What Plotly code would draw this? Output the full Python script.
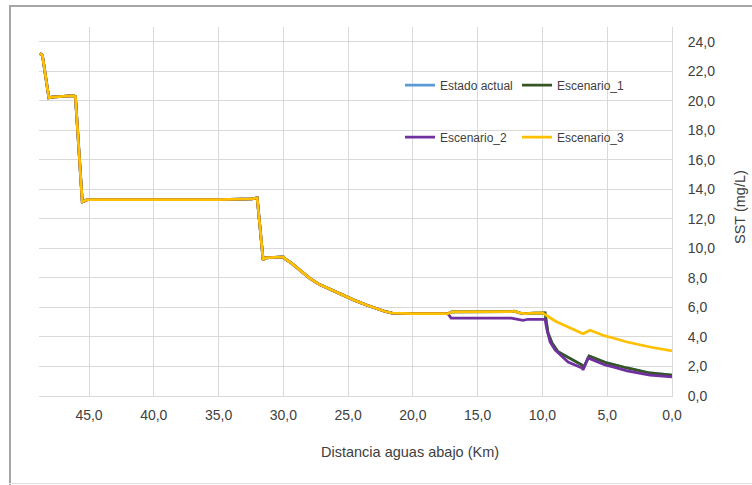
import plotly.graph_objects as go

# ---- Data (distance downstream in km, SST in mg/L) ----
# Reach shared by every scenario (upstream part)
shared_km = [48.80, 48.60, 48.10, 47.90, 47.00, 46.25, 46.05, 45.52, 45.14, 40.0, 35.0,
             32.41, 32.02, 31.56, 31.40, 30.00, 29.86, 29.40, 28.50, 27.93, 27.20,
             26.00, 25.39, 24.50, 23.53, 22.80, 22.20, 21.60, 20.00, 17.30]
shared_sst = [23.2, 23.1, 20.2, 20.25, 20.3, 20.35, 20.3, 13.15, 13.3, 13.3, 13.3,
              13.36, 13.42, 9.22, 9.36, 9.42, 9.29, 9.02, 8.35, 7.95, 7.55,
              7.06, 6.83, 6.48, 6.15, 5.93, 5.74, 5.62, 5.58, 5.58]

# Estado actual downstream part
actual_km = [17.00, 12.40, 12.20, 11.70, 11.30, 10.70, 10.00, 9.80, 9.57, 9.26, 8.80,
             8.00, 6.94, 6.79, 6.40, 5.02, 4.55, 3.47, 1.70, 0.15, 0.0]
actual_sst = [5.70, 5.72, 5.75, 5.62, 5.58, 5.62, 5.63, 5.63, 4.27, 3.59, 3.00,
              2.62, 2.10, 1.97, 2.71, 2.24, 2.13, 1.90, 1.56, 1.42, 1.42]

# Escenario_1 downstream part (coincides with Estado actual)
esc1_km = [17.00, 12.40, 12.20, 11.70, 11.30, 10.70, 10.00, 9.80, 9.57, 9.26, 8.80,
           8.00, 6.94, 6.79, 6.40, 5.02, 4.55, 3.47, 1.70, 0.15, 0.0]
esc1_sst = [5.70, 5.72, 5.75, 5.62, 5.58, 5.62, 5.63, 5.63, 4.27, 3.59, 3.00,
            2.62, 2.10, 1.97, 2.71, 2.24, 2.13, 1.90, 1.56, 1.42, 1.42]

# Escenario_2 downstream part
esc2_km = [17.05, 12.40, 12.00, 11.50, 11.10, 10.00, 9.80, 9.65, 9.41, 9.03, 8.02,
           6.94, 6.87, 6.48, 5.17, 4.55, 3.47, 1.70, 0.0]
esc2_sst = [5.28, 5.27, 5.22, 5.12, 5.20, 5.22, 5.20, 4.47, 3.66, 3.12, 2.30,
            1.90, 1.76, 2.58, 2.10, 1.97, 1.70, 1.42, 1.29]

# Escenario_3 downstream part
esc3_km = [17.00, 12.40, 12.20, 11.70, 11.30, 10.70, 10.00, 9.41, 9.03, 8.02,
           6.94, 6.87, 6.33, 5.17, 4.55, 3.47, 1.70, 0.0]
esc3_sst = [5.70, 5.72, 5.75, 5.62, 5.58, 5.62, 5.63, 5.30, 5.08, 4.68,
            4.27, 4.22, 4.45, 4.07, 3.93, 3.66, 3.32, 3.05]

series_names = ["Estado actual", "Escenario_1", "Escenario_2", "Escenario_3"]
series_colors = ["#5B9BD5", "#375623", "#7030A0", "#FFC000"]
series_km = [actual_km, esc1_km, esc2_km, esc3_km]
series_sst = [actual_sst, esc1_sst, esc2_sst, esc3_sst]

x_ticks = [45, 40, 35, 30, 25, 20, 15, 10, 5, 0]
y_ticks = [0, 2, 4, 6, 8, 10, 12, 14, 16, 18, 20, 22, 24]

FONT = "Liberation Sans, Arial, sans-serif"
TXT = "#404040"
GRID = "#D9D9D9"

fig = go.Figure()
legend_ids = ["legend", "legend2", "legend3", "legend4"]
for name, color, km, sst, lg in zip(series_names, series_colors, series_km, series_sst, legend_ids):
    fig.add_trace(go.Scatter(
        x=shared_km + km, y=shared_sst + sst, name=name, mode="lines",
        line=dict(color=color, width=2.75), legend=lg, showlegend=True,
    ))

# plot area: x 39..672 px, y 27..396 px
def px_x(p):
    return (p - 39) / 633.0

def px_y(p):
    return (396 - p) / 369.0

leg_common = dict(bgcolor="rgba(0,0,0,0)", borderwidth=0, itemwidth=30,
                  font=dict(family=FONT, size=12, color=TXT),
                  xanchor="left", yanchor="middle", orientation="h", visible=True)

fig.update_layout(
    width=752, height=485, autosize=False,
    margin=dict(l=39, r=80, t=27, b=89, pad=0),
    paper_bgcolor="white", plot_bgcolor="white",
    separators=",.",
    showlegend=True,
    font=dict(family=FONT, size=14, color=TXT),
    legend=dict(x=px_x(400), y=px_y(85), **leg_common),
    legend2=dict(x=px_x(517), y=px_y(85), **leg_common),
    legend3=dict(x=px_x(400), y=px_y(137), **leg_common),
    legend4=dict(x=px_x(517), y=px_y(137), **leg_common),
    xaxis=dict(
        range=[48.86, 0], tickvals=x_ticks, tickformat=".1f",
        showgrid=True, gridcolor=GRID, gridwidth=1, zeroline=False,
        showline=True, linecolor=GRID, linewidth=1, ticks="",
        ticklabelstandoff=6, tickfont=dict(family=FONT, size=14, color=TXT),
    ),
    yaxis=dict(
        side="right", range=[0, 25], tickvals=y_ticks, tickformat=".1f",
        showgrid=True, gridcolor=GRID, gridwidth=1, zeroline=False,
        showline=True, linecolor=GRID, linewidth=1, ticks="",
        ticklabelstandoff=12, tickfont=dict(family=FONT, size=14, color=TXT),
    ),
    annotations=[
        dict(text="Distancia aguas abajo (Km)", xref="paper", yref="paper",
             x=px_x(410), y=px_y(452), xanchor="center", yanchor="middle",
             showarrow=False, font=dict(family=FONT, size=14.5, color=TXT)),
        dict(text="SST (mg/L)", xref="paper", yref="paper",
             x=px_x(740), y=px_y(207), xanchor="center", yanchor="middle",
             textangle=-90, showarrow=False,
             font=dict(family=FONT, size=14.5, color=TXT)),
    ],
    shapes=[
        dict(type="line", xref="paper", yref="paper", x0=px_x(10), x1=px_x(10),
             y0=px_y(6), y1=px_y(485), line=dict(color="#A6A6A6", width=2)),
        dict(type="line", xref="paper", yref="paper", x0=px_x(9), x1=px_x(760),
             y0=px_y(6), y1=px_y(6), line=dict(color="#A6A6A6", width=2)),
        dict(type="line", xref="paper", yref="paper", x0=px_x(9), x1=px_x(760),
             y0=px_y(483.5), y1=px_y(483.5), line=dict(color="#E0E0E0", width=1)),
    ],
)

fig.write_html("out.html", config={"displayModeBar": False},
               post_script="document.body.style.margin='0px';")
